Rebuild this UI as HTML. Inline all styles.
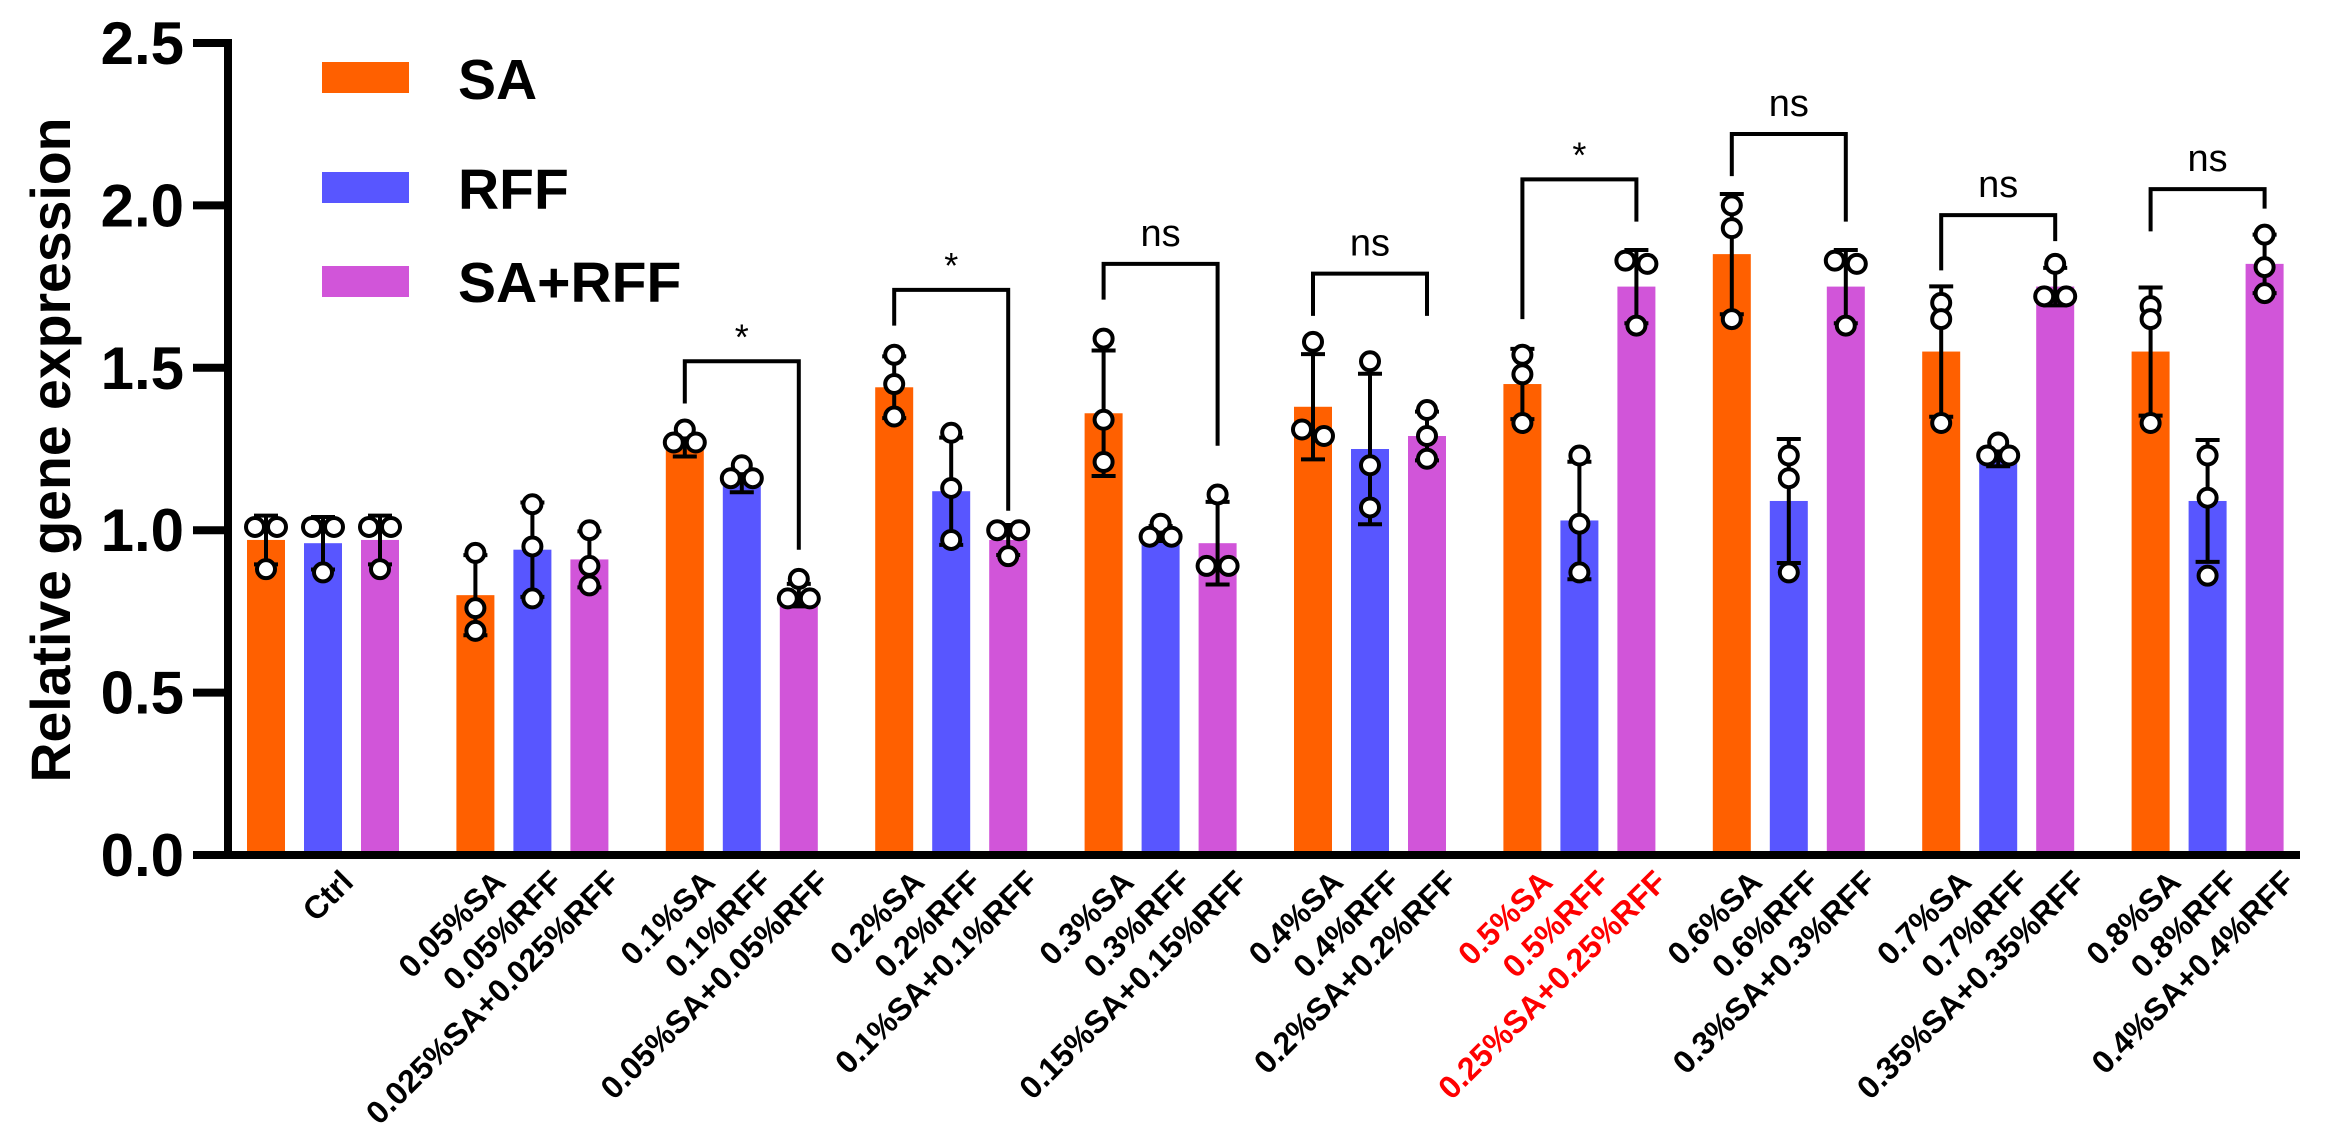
<!DOCTYPE html>
<html><head><meta charset="utf-8"><style>
html,body{margin:0;padding:0;background:#fff;}
svg{display:block;font-family:"Liberation Sans",Arial,sans-serif;}
</style></head><body>
<svg id="chart" width="2347" height="1145" viewBox="0 0 2347 1145" xmlns="http://www.w3.org/2000/svg">
<g id="bars"></g>
<g id="errs"></g>
<g id="pts"></g>
<g id="sig"></g>
<g id="axes"></g>
<g id="xlabels"></g>
<text x="0" y="0" transform="translate(70,450) rotate(-90)" text-anchor="middle" font-size="56" font-weight="bold" textLength="665" lengthAdjust="spacingAndGlyphs">Relative gene expression</text>
<g>
 <g><rect x="322" y="62" width="87" height="31" fill="#FF6000"/><text x="458" y="99" font-size="57" font-weight="bold">SA</text></g>
 <g><rect x="322" y="172" width="87" height="31" fill="#5856FF"/><text x="458" y="209" font-size="57" font-weight="bold">RFF</text></g>
 <g><rect x="322" y="266" width="87" height="31" fill="#D155D9"/><text x="458" y="302" font-size="57" font-weight="bold">SA+RFF</text></g>
</g>
</svg>
<script>
const groupNames = ["Ctrl","0.05","0.1","0.2","0.3","0.4","0.5","0.6","0.7","0.8"];
const saVals  = [0.97,0.80,1.25,1.44,1.36,1.38,1.45,1.85,1.55,1.55];
const rffVals = [0.96,0.94,1.14,1.12,0.99,1.25,1.03,1.09,1.22,1.09];
const mixVals = [0.97,0.91,0.80,0.97,0.96,1.29,1.75,1.75,1.75,1.82];
const saPts  = [[1.01,1.01,0.88],[0.93,0.76,0.69],[1.31,1.27,1.27],[1.54,1.45,1.35],[1.59,1.34,1.21],[1.58,1.31,1.29],[1.54,1.48,1.33],[2.0,1.93,1.65],[1.70,1.65,1.33],[1.69,1.65,1.33]];
const rffPts = [[1.01,1.01,0.87],[1.08,0.95,0.79],[1.20,1.16,1.16],[1.30,1.13,0.97],[1.02,0.98,0.98],[1.52,1.20,1.07],[1.23,1.02,0.87],[1.23,1.16,0.87],[1.27,1.23,1.23],[1.23,1.10,0.86]];
const mixPts = [[1.01,1.01,0.88],[1.00,0.89,0.83],[0.85,0.79,0.79],[1.00,1.00,0.92],[1.11,0.89,0.89],[1.37,1.29,1.22],[1.83,1.82,1.63],[1.83,1.82,1.63],[1.82,1.72,1.72],[1.91,1.81,1.73]];
const labelsSA  = ["","0.05%SA","0.1%SA","0.2%SA","0.3%SA","0.4%SA","0.5%SA","0.6%SA","0.7%SA","0.8%SA"];
const labelsRFF = ["Ctrl","0.05%RFF","0.1%RFF","0.2%RFF","0.3%RFF","0.4%RFF","0.5%RFF","0.6%RFF","0.7%RFF","0.8%RFF"];
const labelsMix = ["","0.025%SA+0.025%RFF","0.05%SA+0.05%RFF","0.1%SA+0.1%RFF","0.15%SA+0.15%RFF","0.2%SA+0.2%RFF","0.25%SA+0.25%RFF","0.3%SA+0.3%RFF","0.35%SA+0.35%RFF","0.4%SA+0.4%RFF"];
const sigGroups = [2,3,4,5,6,7,8,9];
const sigTop    = [1.52,1.74,1.82,1.79,2.08,2.22,1.97,2.05];
const sigLeft   = [1.39,1.63,1.71,1.66,1.65,2.09,1.80,1.92];
const sigRight  = [0.94,1.06,1.26,1.66,1.95,1.95,1.89,1.99];
const sigText   = ["*","*","ns","ns","*","ns","ns","ns"];
const yTicks = [0,0.5,1.0,1.5,2.0,2.5];
const yTickLabels = ["0.0","0.5","1.0","1.5","2.0","2.5"];

const NS="http://www.w3.org/2000/svg";
const Y0=855, PX=324.8;
function yS(v){return Y0 - v*PX;}
function xS(g,s){return 247 + g*209.4 + s*57;}
const BW=38;
const colors=["#FF6000","#5856FF","#D155D9"];
function mk(tag,attrs,parent){const e=document.createElementNS(NS,tag);for(const k in attrs)e.setAttribute(k,attrs[k]);parent.appendChild(e);return e;}
const gBars=document.getElementById('bars'),gErr=document.getElementById('errs'),gPts=document.getElementById('pts'),gSig=document.getElementById('sig'),gAx=document.getElementById('axes'),gXL=document.getElementById('xlabels');
const series=[saVals,rffVals,mixVals], ptsS=[saPts,rffPts,mixPts], sNames=["sa","rff","mix"];
for(let g=0;g<groupNames.length;g++){
 for(let s=0;s<3;s++){
  const v=series[s][g], x=xS(g,s);
  const r=mk('rect',{x:x,y:yS(v),width:BW,height:Y0-yS(v),fill:colors[s]},gBars);
  
  
  const p=ptsS[s][g]; const m=p.reduce((a,b)=>a+b,0)/p.length;
  const sd=Math.sqrt(p.reduce((a,b)=>a+(b-m)*(b-m),0)/(p.length-1));
  const cx=x+BW/2, hi=yS(v+sd), lo=yS(Math.max(0,v-sd));
  const eb=mk('path',{d:`M${cx},${lo}V${hi}M${cx-12},${hi}H${cx+12}M${cx-12},${lo}H${cx+12}`,stroke:'#000','stroke-width':4,fill:'none'},gErr);
  
  
  // spread near-duplicate points
  const used=[];
  p.forEach((pv,i)=>{
   const dup=p.filter((q,j)=>j!==i&&Math.abs(q-pv)<0.035);
   let off=0;
   if(dup.length){const idx=p.filter((q,j)=>j<i&&Math.abs(q-pv)<0.035).length;off=idx===0?-11:11;}
   const c=mk('circle',{cx:cx+off,cy:yS(pv),r:9,fill:'#fff',stroke:'#000','stroke-width':4},gPts);
   
   
  });
 }
 // labels
 const lbls=[labelsSA[g],labelsRFF[g],labelsMix[g]];
 for(let s=0;s<3;s++){
  if(!lbls[s])continue;
  const ax=xS(g,s)+BW/2+32, ay=884;
  const t=mk('text',{x:0,y:0,transform:`translate(${ax},${ay}) rotate(-45)`,'text-anchor':'end','font-size':32,'font-weight':'bold',fill:g===6?'#FF0000':'#000'},gXL);
  t.textContent=lbls[s];
  
  
 }
}
sigGroups.forEach((g,i)=>{
 const x1=xS(g,0)+BW/2, x2=xS(g,2)+BW/2, yt=yS(sigTop[i]);
 const b=mk('path',{d:`M${x1},${yS(sigLeft[i])}V${yt}H${x2}V${yS(sigRight[i])}`,stroke:'#000','stroke-width':4,fill:'none'},gSig);
 
 
 const t=mk('text',{x:(x1+x2)/2,y:sigText[i]==='*'?yt-12:yt-18,'text-anchor':'middle','font-size':sigText[i]==='*'?36:38},gSig);
 t.textContent=sigText[i];
 
 
});
// axes
const ya=mk('line',{x1:228,y1:yS(2.5)-4,x2:228,y2:Y0+4,stroke:'#000','stroke-width':8},gAx);


const xa=mk('line',{x1:193,y1:Y0,x2:2300,y2:Y0,stroke:'#000','stroke-width':8},gAx);


yTicks.forEach((v,i)=>{
 const tk=mk('line',{x1:193,y1:yS(v),x2:228,y2:yS(v),stroke:'#000','stroke-width':8},gAx);
 
 
 const t=mk('text',{x:184,y:yS(v)+21,'text-anchor':'end','font-size':60,'font-weight':'bold'},gAx);
 t.textContent=yTickLabels[i];
 
 
});
</script>
</body></html>
